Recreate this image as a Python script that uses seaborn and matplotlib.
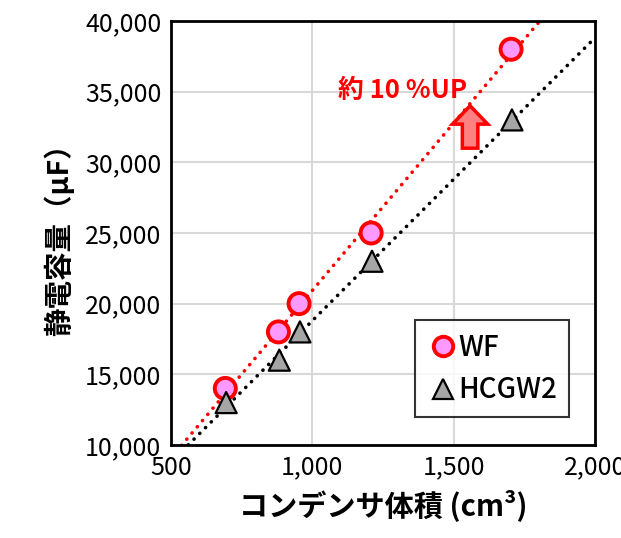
import numpy as np
import pandas as pd
import matplotlib
matplotlib.use("Agg")
import matplotlib.pyplot as plt
import seaborn as sns
from matplotlib.patches import FancyArrow
from matplotlib.ticker import FuncFormatter

# data
wf_x = [692, 880, 953, 1208, 1703]
wf_y = [14000, 18000, 20000, 25000, 38000]
hc_x = [695, 883, 956, 1211, 1706]
hc_y = [13000, 16000, 18000, 23000, 33000]
series = ["WF", "HCGW2"]

sns.set_style("white")
plt.rcParams["font.family"] = ["Noto Sans CJK JP", "DejaVu Sans"]
plt.rcParams["text.color"] = "black"
plt.rcParams["axes.labelcolor"] = "black"
plt.rcParams["xtick.color"] = "black"
plt.rcParams["ytick.color"] = "black"

df = pd.DataFrame({
    "x": wf_x + hc_x,
    "y": wf_y + hc_y,
    "s": [series[0]] * len(wf_x) + [series[1]] * len(hc_x),
})

fig = plt.figure(figsize=(6.21, 5.38), dpi=100)
ax = fig.add_axes([0.2754, 0.1729, 0.6828, 0.7881])
ax.set_xlim(500, 2000)
ax.set_ylim(10000, 40000)

# dotted trend lines over the whole x range
sns.regplot(data=df[df.s == "WF"], x="x", y="y", ax=ax, scatter=False, ci=None,
            truncate=False, line_kws=dict(color="red", lw=2.6, ls=(0, (0.05, 2.2)),
                                          dash_capstyle="round"))
sns.regplot(data=df[df.s == "HCGW2"], x="x", y="y", ax=ax, scatter=False, ci=None,
            truncate=False, line_kws=dict(color="black", lw=2.6, ls=(0, (0.05, 2.2)),
                                          dash_capstyle="round"))

sns.scatterplot(data=df, x="x", y="y", hue="s", style="s",
                markers={"WF": "o", "HCGW2": "^"},
                palette={"WF": "#ff99ff", "HCGW2": "#a6a6a6"},
                s=230, ax=ax, legend=False, zorder=5)
# edge colours per series
coll = ax.collections[-1]
coll.set_edgecolor(["red"] * len(wf_x) + ["black"] * len(hc_x))
coll.set_linewidth([2.8] * len(wf_x) + [1.6] * len(hc_x))

ax.set_xlim(500, 2000)
ax.set_ylim(10000, 40000)
ax.set_xticks([500, 1000, 1500, 2000])
ax.set_yticks(np.arange(10000, 40001, 5000))
ax.xaxis.set_major_formatter(FuncFormatter(lambda v, p: f"{v:,.0f}"))
ax.yaxis.set_major_formatter(FuncFormatter(lambda v, p: f"{v:,.0f}"))
ax.tick_params(labelsize=18, length=0, pad=7)
ax.grid(True, color="#d9d9d9", lw=1.5)
for sp in ax.spines.values():
    sp.set_color("black")
    sp.set_linewidth(2)

ax.set_xlabel("コンデンサ体積 (cm³)", fontsize=21, fontweight="bold", labelpad=6)
ax.set_ylabel("静電容量（μF）", fontsize=20.5, fontweight="bold", labelpad=8)

# annotation
ax.text(1090, 35100, "約 10 %UP", color="red", fontsize=18.5, fontweight="bold",
        va="center", ha="left")
ax.add_patch(FancyArrow(1558, 31000, 0, 3000, width=55, head_width=125,
                        head_length=1300, length_includes_head=True,
                        facecolor="#ff8080", edgecolor="red", lw=2.5, zorder=6))

# legend
h1 = plt.Line2D([], [], marker="o", ls="none", markersize=14, markerfacecolor="#ff99ff",
                markeredgecolor="red", markeredgewidth=2.8)
h2 = plt.Line2D([], [], marker="^", ls="none", markersize=14, markerfacecolor="#a6a6a6",
                markeredgecolor="black", markeredgewidth=1.6)
leg = ax.legend([h1, h2], series, loc="lower left", bbox_to_anchor=(0.575, 0.066),
                borderaxespad=0, frameon=True, fancybox=False, handletextpad=0.0,
                handlelength=1.1, borderpad=0.45, labelspacing=0.5,
                prop={"size": 20, "weight": "medium"})
leg.get_frame().set_edgecolor("black")
leg.get_frame().set_linewidth(1.5)
leg.set_zorder(10)

fig.savefig("out.png", dpi=100)
